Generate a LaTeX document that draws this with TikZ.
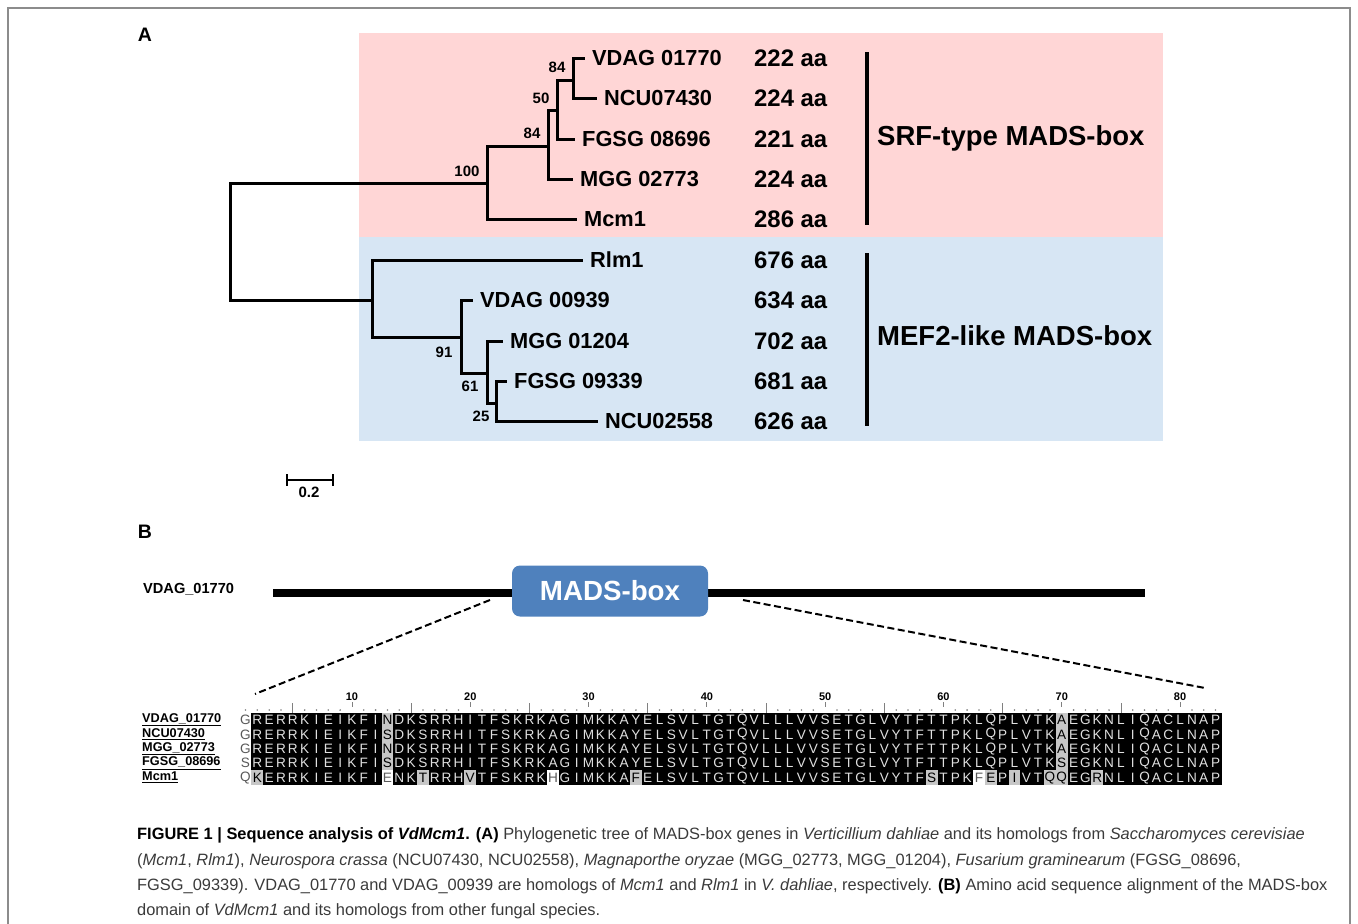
\documentclass[tikz,border=0pt]{standalone}
\usepackage{fontspec}
\setmainfont{Liberation Sans}
\usetikzlibrary{positioning,calc}
\definecolor{srfpink}{HTML}{FFD6D6}
\definecolor{mefblue}{HTML}{D7E6F4}
\definecolor{boxblue}{HTML}{4F81BD}
\definecolor{capgray}{HTML}{3A3A3A}
\tikzset{
  branch/.style={line width=3pt},
  leaf/.style={anchor=west,inner sep=0pt,xshift=7pt,font=\fontsize{21.8}{24}\selectfont\bfseries},
  aalen/.style={anchor=west,inner sep=0pt,font=\fontsize{23.9}{26}\selectfont\bfseries},
  boot/.style={inner sep=0pt,font=\fontsize{15}{16}\selectfont\bfseries},
  group/.style={anchor=west,inner sep=0pt,text depth=0pt,font=\fontsize{27.5}{30}\selectfont\bfseries},
  panel/.style={inner sep=0pt,font=\fontsize{19.5}{22}\selectfont\bfseries},
  seqname/.style={anchor=west,inner sep=0pt,font=\fontsize{12.7}{14}\selectfont\bfseries},
  res/.style={minimum width=11.83pt,minimum height=14.4pt,inner sep=0pt,text=white!88!black,font=\fontsize{13.6}{14}\selectfont},
  gres/.style={fill=black!22,text=black},
  wres/.style={fill=white,text=black!65},
  rulenum/.style={inner sep=0pt,font=\fontsize{11}{12}\selectfont\bfseries},
  captext/.style={anchor=base west,inner sep=0pt,text=capgray,font=\fontsize{16.4}{19}\selectfont},
  zoomline/.style={line width=2pt,dash pattern=on 7pt off 3.5pt},
  c5-2/.style=gres, c1-13/.style=gres, c2-13/.style=gres, c3-13/.style=gres, c4-13/.style=gres,
  c5-13/.style=wres, c5-16/.style=gres, c5-20/.style=gres, c5-27/.style=wres, c5-34/.style=gres,
  c5-59/.style=gres, c5-63/.style=wres, c5-64/.style=gres, c5-66/.style=gres, c5-69/.style=gres,
  c1-70/.style=gres, c2-70/.style=gres, c3-70/.style=gres, c4-70/.style=gres, c5-70/.style=gres,
  c5-73/.style=gres
}

\begin{document}
\begin{tikzpicture}[x=1pt,y=-1pt]
  \useasboundingbox (0,0) rectangle (1358,924);
  \draw[black!45,line width=2pt] (8,924) -- (8,8) -- (1350,8) -- (1350,924);
  \node[panel] (pa) at (145,35) {A};
  \fill[srfpink] (359,33) rectangle (1163,237);
  \fill[mefblue] (359,237) rectangle (1163,441);

  \coordinate (root) at (230,241);
  \coordinate (nD) at (487,183);
  \coordinate (nC) at (548,146);
  \coordinate (nB) at (557,110);
  \coordinate (nA) at (573,80);
  \coordinate (nH) at (372,300);
  \coordinate (nG) at (461,337);
  \coordinate (nF) at (487,373);
  \coordinate (nE) at (496,403);
  \foreach \x/\y [count=\i] in {585/58, 597/98, 575/139, 573/179, 577/219, 583/260, 473/300, 503/341, 507/381, 598/421}
    \coordinate (l\i) at (\x,\y);
  \foreach \p/\c in {root/nD, root/nH, nD/nC, nD/l5, nC/nB, nC/l4, nB/nA, nB/l3, nA/l1, nA/l2,
                     nH/l6, nH/nG, nG/l7, nG/nF, nF/l8, nF/nE, nE/l9, nE/l10}
    \draw[branch] (\p) |- (\c);

  \foreach \t/\s [count=\i] in {VDAG 01770/222, NCU07430/224, FGSG 08696/221, MGG 02773/224, Mcm1/286,
                                Rlm1/676, VDAG 00939/634, MGG 01204/702, FGSG 09339/681, NCU02558/626} {
    \node[leaf] (t\i) at (l\i) {\t};
    \node[aalen] (s\i) at (754,0 |- l\i) {\s\ aa};
  }
  \foreach \b/\x/\y [count=\i] in {84/557/67, 50/541/98, 84/532/133, 100/467/171, 91/444/352, 61/470/386, 25/481/416}
    \node[boot] (b\i) at (\x,\y) {\b};

  \coordinate (srf1) at (867,52);
  \coordinate (srf2) at (867,225);
  \coordinate (mef1) at (867,253);
  \coordinate (mef2) at (867,426);
  \draw[line width=4pt] (srf1) -- (srf2);
  \draw[line width=4pt] (mef1) -- (mef2);
  \node[group] (srf) at (877,136) {SRF-type MADS-box};
  \node[group] (mef) at (877,336) {MEF2-like MADS-box};

  \coordinate (sb1) at (287,480);
  \coordinate (sb2) at (333,480);
  \draw[line width=2.5pt] (sb1) -- (sb2);
  \draw[line width=2.5pt] ($(sb1)+(0,-6)$) -- ($(sb1)+(0,6)$) ($(sb2)+(0,-6)$) -- ($(sb2)+(0,6)$);
  \node[boot] (sbl) at (309,492) {0.2};

  \node[panel] (pb) at (145,532) {B};
  \node[seqname,font=\fontsize{14.6}{16}\selectfont\bfseries] (gene) at (143,589) {VDAG\_01770};
  \coordinate (p0) at (273,593);
  \coordinate (p1) at (1145,593);
  \draw[line width=8pt] (p0) -- (p1);
  \node[fill=boxblue,rounded corners=8pt,minimum width=196pt,minimum height=51pt,text=white,
        font=\fontsize{27.7}{30}\selectfont\bfseries] (mads) at (610,591) {MADS-box};
  \coordinate (d1) at (490,600);
  \coordinate (d2) at (255,694);
  \coordinate (d3) at (743,600);
  \coordinate (d4) at (1205,688);
  \draw[zoomline] (d1) -- (d2);
  \draw[zoomline] (d3) -- (d4);

  \foreach \c in {1,...,83} {
    \ifnum\numexpr\c-5*(\c/5)\relax=0 \else \fill[black!50] ({245.5+(\c-1)*11.83},710) circle (0.9pt); \fi
  }
  \foreach \c in {5,15,...,75}
    \draw[black!50,line width=0.8pt] ({245.5+(\c-1)*11.83},703) -- ({245.5+(\c-1)*11.83},714);
  \foreach \c in {10,20,...,80} {
    \node[rulenum] (n\c) at ({245.5+(\c-1)*11.83},697) {\c};
    \draw[black!50,line width=0.8pt] ({245.5+(\c-1)*11.83},702) -- ({245.5+(\c-1)*11.83},707);
  }

  \foreach \n [count=\r] in {VDAG\_01770, NCU07430, MGG\_02773, FGSG\_08696, Mcm1}
    \node[seqname] (name\r) at (142,{720+(\r-1)*14.4}) {\underline{\n}};
  \fill (251.4,712.8) rectangle (1221.5,784.8);
  \foreach \seq [count=\r] in {
    {G,R,E,R,R,K,I,E,I,K,F,I,N,D,K,S,R,R,H,I,T,F,S,K,R,K,A,G,I,M,K,K,A,Y,E,L,S,V,L,T,G,T,Q,V,L,L,L,V,V,S,E,T,G,L,V,Y,T,F,T,T,P,K,L,Q,P,L,V,T,K,A,E,G,K,N,L,I,Q,A,C,L,N,A,P},
    {G,R,E,R,R,K,I,E,I,K,F,I,S,D,K,S,R,R,H,I,T,F,S,K,R,K,A,G,I,M,K,K,A,Y,E,L,S,V,L,T,G,T,Q,V,L,L,L,V,V,S,E,T,G,L,V,Y,T,F,T,T,P,K,L,Q,P,L,V,T,K,A,E,G,K,N,L,I,Q,A,C,L,N,A,P},
    {G,R,E,R,R,K,I,E,I,K,F,I,N,D,K,S,R,R,H,I,T,F,S,K,R,K,A,G,I,M,K,K,A,Y,E,L,S,V,L,T,G,T,Q,V,L,L,L,V,V,S,E,T,G,L,V,Y,T,F,T,T,P,K,L,Q,P,L,V,T,K,A,E,G,K,N,L,I,Q,A,C,L,N,A,P},
    {S,R,E,R,R,K,I,E,I,K,F,I,S,D,K,S,R,R,H,I,T,F,S,K,R,K,A,G,I,M,K,K,A,Y,E,L,S,V,L,T,G,T,Q,V,L,L,L,V,V,S,E,T,G,L,V,Y,T,F,T,T,P,K,L,Q,P,L,V,T,K,S,E,G,K,N,L,I,Q,A,C,L,N,A,P},
    {Q,K,E,R,R,K,I,E,I,K,F,I,E,N,K,T,R,R,H,V,T,F,S,K,R,K,H,G,I,M,K,K,A,F,E,L,S,V,L,T,G,T,Q,V,L,L,L,V,V,S,E,T,G,L,V,Y,T,F,S,T,P,K,F,E,P,I,V,T,Q,Q,E,G,R,N,L,I,Q,A,C,L,N,A,P}}
    \foreach \a [count=\c] in \seq {
      \ifnum\c=1 \def\cst{wres}\else\def\cst{}\fi
      \node[res,\cst,c\r-\c/.try] (r\r-\c) at ({245.5+(\c-1)*11.83},{720+(\r-1)*14.4}) {\a};
    }

  \node[captext] (cap1) at (137,839) {\textbf{\color{black}FIGURE 1 | Sequence analysis of \textit{VdMcm1}. (A)} Phylogenetic tree of MADS-box genes in \textit{Verticillium dahliae} and its homologs from \textit{Saccharomyces cerevisiae}};
  \node[captext] (cap2) at (137,865) {(\textit{Mcm1}, \textit{Rlm1}), \textit{Neurospora crassa} (NCU07430, NCU02558), \textit{Magnaporthe oryzae} (MGG\_02773, MGG\_01204), \textit{Fusarium graminearum} (FGSG\_08696,};
  \node[captext] (cap3) at (137,890) {FGSG\_09339). VDAG\_01770 and VDAG\_00939 are homologs of \textit{Mcm1} and \textit{Rlm1} in \textit{V. dahliae}, respectively. \textbf{\color{black}(B)} Amino acid sequence alignment of the MADS-box};
  \node[captext] (cap4) at (137,915) {domain of \textit{VdMcm1} and its homologs from other fungal species.};
\end{tikzpicture}
\end{document}
